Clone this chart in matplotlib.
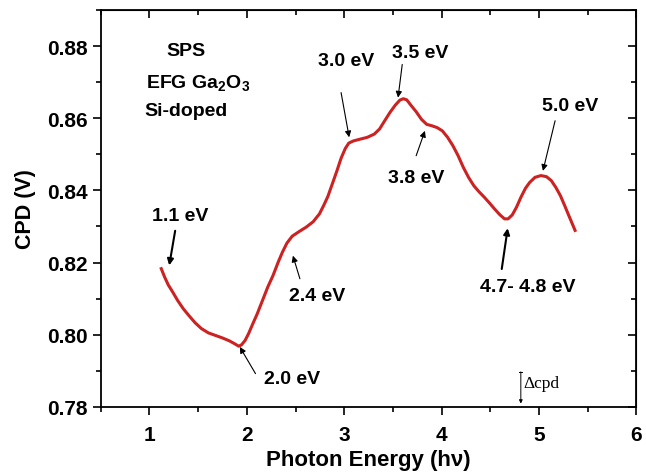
import matplotlib
matplotlib.use("Agg")
import matplotlib.pyplot as plt
from matplotlib.ticker import MultipleLocator

plt.rcParams['font.family'] = ['Liberation Sans', 'DejaVu Sans']
plt.rcParams['mathtext.fontset'] = 'custom'
plt.rcParams['mathtext.rm'] = 'Liberation Sans:bold'
plt.rcParams['mathtext.bf'] = 'Liberation Sans:bold'

# curve
energy = [1.121, 1.157, 1.193, 1.239, 1.289, 1.347, 1.408, 1.469, 1.533, 1.605,
          1.677, 1.749, 1.820, 1.874, 1.917, 1.946, 1.982, 2.018, 2.061, 2.107,
          2.161, 2.215, 2.269, 2.322, 2.366, 2.412, 2.466, 2.538, 2.609, 2.681,
          2.746, 2.789, 2.832, 2.878, 2.925, 2.968, 3.011, 3.047, 3.094, 3.165,
          3.237, 3.309, 3.363, 3.416, 3.470, 3.524, 3.571, 3.607, 3.642, 3.685,
          3.739, 3.793, 3.847, 3.901, 3.954, 4.008, 4.062, 4.116, 4.170, 4.223,
          4.277, 4.331, 4.385, 4.439, 4.492, 4.546, 4.600, 4.647, 4.683, 4.726,
          4.769, 4.815, 4.862, 4.905, 4.959, 5.020, 5.077, 5.127, 5.174, 5.221,
          5.264, 5.307, 5.343, 5.371]
cpd = [0.8183, 0.8159, 0.8138, 0.8118, 0.8095, 0.8072, 0.8052, 0.8033, 0.8017, 0.8005,
       0.7998, 0.7991, 0.7983, 0.7975, 0.7968, 0.7972, 0.7984, 0.8003, 0.8030, 0.8058,
       0.8095, 0.8132, 0.8164, 0.8201, 0.8229, 0.8254, 0.8273, 0.8286, 0.8298, 0.8313,
       0.8335, 0.8358, 0.8383, 0.8418, 0.8454, 0.8489, 0.8516, 0.8531, 0.8537, 0.8542,
       0.8547, 0.8556, 0.8570, 0.8593, 0.8616, 0.8636, 0.8650, 0.8654, 0.8651, 0.8636,
       0.8618, 0.8597, 0.8583, 0.8579, 0.8574, 0.8565, 0.8547, 0.8524, 0.8496, 0.8464,
       0.8436, 0.8413, 0.8396, 0.8381, 0.8365, 0.8348, 0.8332, 0.8321, 0.8321, 0.8332,
       0.8353, 0.8381, 0.8406, 0.8422, 0.8436, 0.8441, 0.8438, 0.8427, 0.8408, 0.8385,
       0.8358, 0.8330, 0.8307, 0.8289]

# peak labels: text, text position, arrow tail, arrow head, arrow width
labels = ["1.1 eV", "2.0 eV", "2.4 eV", "3.0 eV", "3.5 eV", "3.8 eV", "4.7- 4.8 eV", "5.0 eV"]
label_xy = [(1.316, 0.8330), (2.465, 0.7878), (2.717, 0.8109), (3.019, 0.8759),
            (3.776, 0.8782), (3.735, 0.8436), (4.884, 0.8133), (5.318, 0.8636)]
arrow_from = [(1.264, 0.8288), (2.089, 0.7892), (2.545, 0.8155), (2.968, 0.8671),
              (3.596, 0.8749), (3.739, 0.8496), (4.618, 0.8182), (5.166, 0.8593)]
arrow_to = [(1.203, 0.8192), (1.928, 0.7966), (2.473, 0.8219), (3.051, 0.8547),
            (3.553, 0.8657), (3.829, 0.8565), (4.679, 0.8295), (5.041, 0.8454)]
arrow_lw = [1.5, 0.8, 0.8, 0.8, 0.8, 0.8, 1.5, 0.8]

fig = plt.figure(figsize=(6.46, 4.77), dpi=100)
ax = fig.add_axes([0.156, 0.145, 0.829, 0.832])

ax.plot(energy, cpd, color='#cc2222', lw=2.2)

for t, xy, a, b, w in zip(labels, label_xy, arrow_from, arrow_to, arrow_lw):
    ax.text(xy[0], xy[1], t, ha='center', va='center', fontsize=14, fontweight='bold')
    ax.annotate('', xy=b, xytext=a,
                arrowprops=dict(arrowstyle='-|>', color='black', lw=w,
                                mutation_scale=9, shrinkA=0, shrinkB=0))

ax.text(1.37, 0.8787, 'SPS', ha='center', va='center', fontsize=14, fontweight='bold')
ax.text(1.50, 0.8699, r'EFG Ga$_2$O$_3$', ha='center', va='center', fontsize=14, fontweight='bold')
ax.text(1.38, 0.8621, 'Si-doped', ha='center', va='center', fontsize=14, fontweight='bold')

# delta cpd scale bar
ax.annotate('', xy=(4.814, 0.7809), xytext=(4.814, 0.7897),
            arrowprops=dict(arrowstyle='-|>', color='black', lw=0.7,
                            mutation_scale=5, shrinkA=0, shrinkB=0))
ax.plot([4.80, 4.83], [0.7897, 0.7897], color='black', lw=0.7)
ax.text(4.84, 0.7866, '\u0394cpd', ha='left', va='center', fontsize=12.5,
        family=['Liberation Serif', 'DejaVu Serif'])

ax.set_xlim(0.5, 6)
ax.set_ylim(0.78, 0.89)
ax.xaxis.set_major_locator(MultipleLocator(1))
ax.xaxis.set_minor_locator(MultipleLocator(0.5))
ax.yaxis.set_minor_locator(MultipleLocator(0.01))
ax.set_yticks([0.78, 0.80, 0.82, 0.84, 0.86, 0.88])
ax.set_yticklabels(['0.78', '0.80', '0.82', '0.84', '0.86', '0.88'])

ax.tick_params(which='both', direction='out', width=1.2, labelsize=15)
ax.tick_params(which='major', length=6)
ax.tick_params(which='minor', length=3.5)
ax.tick_params(axis='x', pad=7)
for lab in ax.get_xticklabels() + ax.get_yticklabels():
    lab.set_fontweight('bold')

# mirrored inward ticks on top and right
tx = ax.secondary_xaxis('top')
tx.xaxis.set_major_locator(MultipleLocator(1))
tx.xaxis.set_minor_locator(MultipleLocator(0.5))
tx.tick_params(which='both', direction='in', width=1.2, labeltop=False)
tx.tick_params(which='major', length=6)
tx.tick_params(which='minor', length=3.5)
ty = ax.secondary_yaxis('right')
ty.yaxis.set_major_locator(MultipleLocator(0.02))
ty.yaxis.set_minor_locator(MultipleLocator(0.01))
ty.tick_params(which='both', direction='in', width=1.2, labelright=False)
ty.tick_params(which='major', length=6)
ty.tick_params(which='minor', length=3.5)

for s in ax.spines.values():
    s.set_linewidth(1.3)

ax.set_xlabel('Photon Energy (h\u03bd)', fontsize=16, fontweight='bold', labelpad=4)
ax.set_ylabel('CPD (V)', fontsize=15.5, fontweight='bold', labelpad=8)

fig.savefig('out.png', dpi=100)
